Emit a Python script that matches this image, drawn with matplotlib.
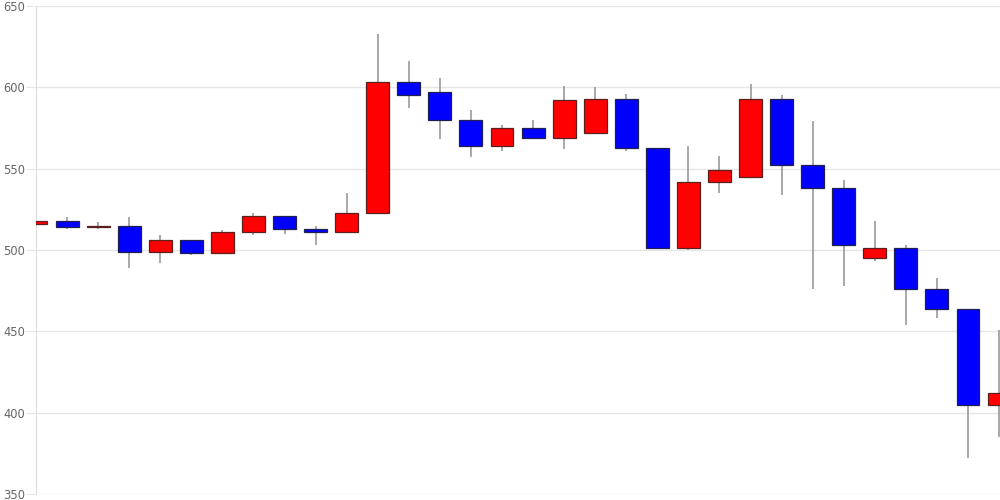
import matplotlib
matplotlib.use("Agg")
from matplotlib import pyplot as plt

# daily candles
opens = [516, 518, 514, 515, 499, 506, 498, 511, 521, 513, 511, 523, 603, 597, 580, 564,
         575, 569, 572, 593, 563, 501, 542, 545, 593, 552, 538, 495, 501, 476, 464, 405]
closes = [518, 514, 515, 499, 506, 498, 511, 521, 513, 511, 523, 603, 595, 580, 564, 575,
          569, 592, 593, 563, 501, 542, 549, 593, 552, 538, 503, 501, 476, 464, 405, 412]
highs = [522, 520, 517, 520, 509, 506, 512, 523, 521, 515, 535, 633, 616, 606, 586, 577,
         580, 601, 600, 596, 563, 564, 558, 602, 595, 579, 543, 518, 503, 483, 464, 451]
lows = [511, 513, 513, 489, 492, 497, 498, 509, 510, 503, 511, 523, 587, 568, 557, 561,
        568, 562, 572, 561, 501, 500, 535, 545, 534, 476, 478, 493, 454, 458, 372, 385]
yticks = [350, 400, 450, 500, 550, 600, 650]

fig = plt.figure(figsize=(10, 5), dpi=100)
ax = fig.add_axes([0.036, 0.012, 0.964, 0.976])

x = list(range(len(opens)))
width = 0.74
for i in x:
    o, c = opens[i], closes[i]
    color = "#ff0000" if c >= o else "#0000ff"
    edge = "#5a2020" if c >= o else "#202050"
    ax.vlines(i, lows[i], highs[i], color="#999999", linewidth=1.2, zorder=2)
    ax.bar(i, abs(c - o), bottom=min(o, c), width=width, color=color,
           edgecolor=edge, linewidth=0.9, zorder=3)

ax.set_xlim(0, 31.03)
ax.set_ylim(350, 650)
ax.set_yticks(yticks)
ax.set_xticks([])
ax.grid(axis="y", color="#e6e6e6", linewidth=1, zorder=0)
ax.tick_params(axis="y", length=7, color="#e6e6e6", labelcolor="#666666",
               labelsize=8.3, pad=1)
for side in ["top", "right", "bottom"]:
    ax.spines[side].set_visible(False)
ax.spines["left"].set_color("#dddddd")

plt.savefig("out.png", dpi=100)
